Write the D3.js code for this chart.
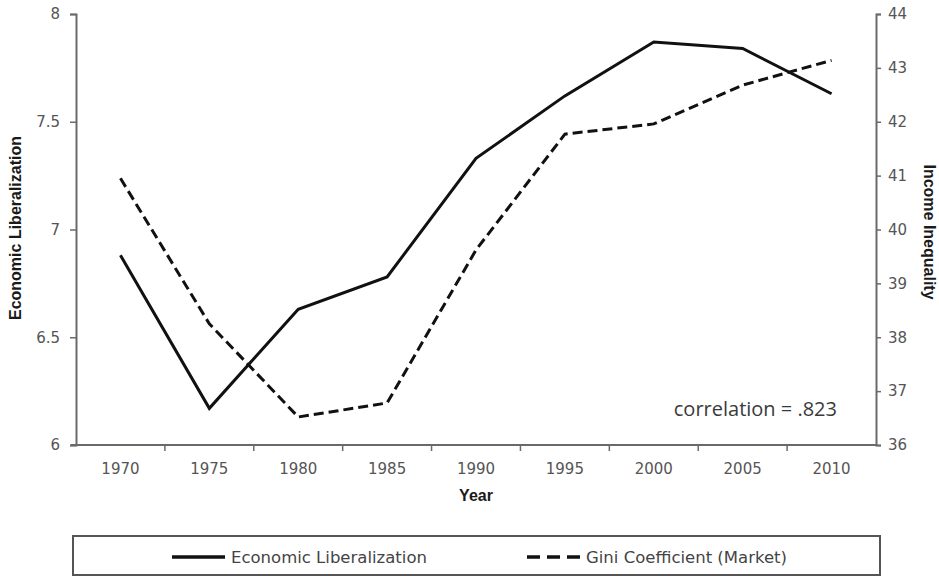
<!DOCTYPE html>
<html>
<head>
<meta charset="utf-8">
<script src="https://cdn.jsdelivr.net/npm/d3@7"></script>
<style>
  body { margin: 0; background: #fff; }
  text { font-family: "DejaVu Sans", "Liberation Sans", Arial, sans-serif; }
</style>
</head>
<body>
<div id="chart"></div>
<script>
// values
var years = ["1970", "1975", "1980", "1985", "1990", "1995", "2000", "2005", "2010"];
var econLib = [6.88, 6.17, 6.63, 6.78, 7.33, 7.62, 7.87, 7.84, 7.63];
var gini = [40.95, 38.25, 36.52, 36.78, 39.62, 41.77, 41.96, 42.68, 43.14];
var leftTicks = [6, 6.5, 7, 7.5, 8];
var rightTicks = [36, 37, 38, 39, 40, 41, 42, 43, 44];
var seriesNames = ["Economic Liberalization", "Gini Coefficient (Market)"];

var width = 939, height = 577;
var margin = {top: 14, right: 63, bottom: 132, left: 76};

var svg = d3.select("#chart").append("svg")
    .attr("width", width)
    .attr("height", height);

var x = d3.scaleBand()
    .domain(years)
    .range([margin.left, width - margin.right]);

var yLeft = d3.scaleLinear()
    .domain([6, 8])
    .range([height - margin.bottom, margin.top]);

var yRight = d3.scaleLinear()
    .domain([36, 44])
    .range([height - margin.bottom, margin.top]);

var axisColor = "#6a6a6a", labelColor = "#555";
var tickFont = "15px";

// x axis: ticks sit between categories
var xAxis = svg.append("g")
    .attr("transform", "translate(0," + (height - margin.bottom) + ")");
xAxis.append("line")
    .attr("x1", margin.left - 5).attr("x2", width - margin.right)
    .attr("stroke", axisColor).attr("stroke-width", 2);
xAxis.selectAll(".tk")
    .data(years.slice(1))
    .enter().append("line")
    .attr("x1", function(d) { return x(d); })
    .attr("x2", function(d) { return x(d); })
    .attr("y1", 0).attr("y2", 6)
    .attr("stroke", axisColor).attr("stroke-width", 1.5);
xAxis.selectAll(".lb")
    .data(years)
    .enter().append("text")
    .attr("x", function(d) { return x(d) + x.bandwidth() / 2; })
    .attr("y", 29)
    .attr("text-anchor", "middle")
    .attr("fill", labelColor)
    .style("font-size", tickFont)
    .text(function(d) { return d; });

// left axis
var gl = svg.append("g")
    .attr("transform", "translate(" + margin.left + ",0)")
    .call(d3.axisLeft(yLeft).tickValues(leftTicks).tickSize(6).tickPadding(10)
        .tickFormat(function(d) { return d; }));
gl.select(".domain").attr("stroke", axisColor).attr("stroke-width", 2);
gl.selectAll(".tick line").attr("stroke", axisColor).attr("stroke-width", 1.5);
gl.selectAll(".tick text").attr("fill", labelColor)
    .style("font-size", tickFont).style("font-family", "DejaVu Sans, sans-serif");

// right axis
var gr = svg.append("g")
    .attr("transform", "translate(" + (width - margin.right) + ",0)")
    .call(d3.axisRight(yRight).tickValues(rightTicks).tickSize(5).tickPadding(7));
gr.select(".domain").attr("stroke", axisColor).attr("stroke-width", 2);
gr.selectAll(".tick line").attr("stroke", axisColor).attr("stroke-width", 1.5);
gr.selectAll(".tick text").attr("fill", labelColor)
    .style("font-size", tickFont).style("font-family", "DejaVu Sans, sans-serif");

// axis titles
svg.append("text")
    .attr("transform", "translate(21,228) rotate(-90)")
    .attr("text-anchor", "middle")
    .attr("fill", "#1a1a1a")
    .style("font-family", "Liberation Sans, Arial, sans-serif")
    .style("font-size", "16px").style("font-weight", "bold")
    .text("Economic Liberalization");

svg.append("text")
    .attr("transform", "translate(924,232) rotate(90)")
    .attr("text-anchor", "middle")
    .attr("fill", "#1a1a1a")
    .style("font-family", "Liberation Sans, Arial, sans-serif")
    .style("font-size", "16px").style("font-weight", "bold")
    .text("Income Inequality");

svg.append("text")
    .attr("x", (margin.left + width - margin.right) / 2)
    .attr("y", 501)
    .attr("text-anchor", "middle")
    .attr("fill", "#1a1a1a")
    .style("font-family", "Liberation Sans, Arial, sans-serif")
    .style("font-size", "16px").style("font-weight", "bold")
    .text("Year");

// lines
var cx = function(i) { return x(years[i]) + x.bandwidth() / 2; };

var lineLeft = d3.line()
    .x(function(d, i) { return cx(i); })
    .y(function(d) { return yLeft(d); });

var lineRight = d3.line()
    .x(function(d, i) { return cx(i); })
    .y(function(d) { return yRight(d); });

svg.append("path")
    .datum(gini)
    .attr("d", lineRight)
    .attr("fill", "none")
    .attr("stroke", "#111")
    .attr("stroke-width", 3)
    .attr("stroke-dasharray", "10,5");

svg.append("path")
    .datum(econLib)
    .attr("d", lineLeft)
    .attr("fill", "none")
    .attr("stroke", "#111")
    .attr("stroke-width", 3);

// correlation note
svg.append("text")
    .attr("x", 837)
    .attr("y", 416)
    .attr("text-anchor", "end")
    .attr("fill", "#3a3a3a")
    .style("font-family", "'Open Sans', sans-serif")
    .style("font-size", "20px")
    .text("correlation = .823");

// legend
var legend = svg.append("g");
legend.append("rect")
    .attr("x", 73).attr("y", 536)
    .attr("width", 807).attr("height", 39)
    .attr("fill", "#fff")
    .attr("stroke", "#555").attr("stroke-width", 2);

var legendItems = [
    {name: seriesNames[0], x0: 172, dash: null},
    {name: seriesNames[1], x0: 527, dash: "13,7"}
];
legendItems.forEach(function(it) {
    legend.append("line")
        .attr("x1", it.x0).attr("x2", it.x0 + 53)
        .attr("y1", 557).attr("y2", 557)
        .attr("stroke", "#111").attr("stroke-width", 3.5)
        .attr("stroke-dasharray", it.dash);
    legend.append("text")
        .attr("x", it.x0 + 59)
        .attr("y", 563)
        .attr("fill", "#444")
        .style("font-size", "16.5px")
        .text(it.name);
});
</script>
</body>
</html>
